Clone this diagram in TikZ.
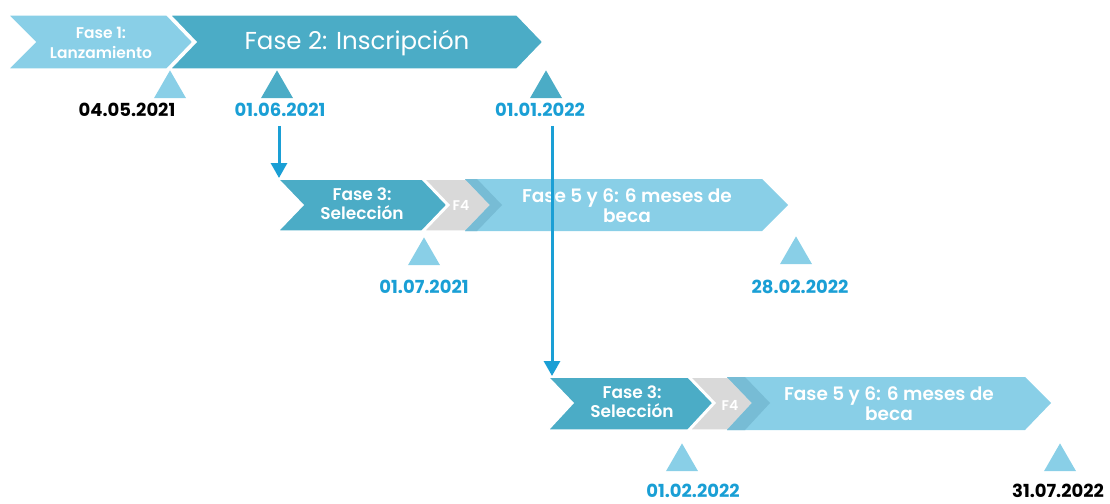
\documentclass[tikz,border=0pt]{standalone}
\usepackage{fontspec}
\setmainfont{Poppins}
\newfontfamily\semifont{Poppins SemiBold}
\usetikzlibrary{positioning}
\usetikzlibrary{shapes.geometric}
\usetikzlibrary{arrows.meta}
\definecolor{fasedark}{HTML}{4BACC6}
\definecolor{faselight}{HTML}{89CFE7}
\definecolor{fasegrey}{HTML}{D9D9D9}
\definecolor{fasemix}{HTML}{77BCD5}
\definecolor{dateblue}{HTML}{1A9FD5}

\begin{document}
\begin{tikzpicture}
    [x=1pt, y=-1pt,
    dark/.style={fill=fasedark, draw=white, line width=1.5pt},
    light/.style={fill=faselight, draw=white, line width=1.5pt},
    grey/.style={fill=fasegrey, draw=white, line width=1.5pt},
    phase/.style={text=white, align=center, inner sep=0pt, font=\semifont\fontsize{17}{19}\selectfont},
    date/.style={text=dateblue, inner sep=0pt, font=\bfseries\fontsize{18}{18}\selectfont},
    hito/.style={regular polygon, regular polygon sides=3, minimum size=37pt, inner sep=0pt, anchor=corner 1},
    link/.style={-{Triangle[width=16pt,length=15pt]}, line width=3pt, draw=dateblue}]
     \useasboundingbox (0,0) rectangle (1110,503);
     %\draw[step=50pt,gray,very thin] (0,0) grid (1110,503);
     % row 1
     \draw[dark]  (170,15) -- (517,15) -- (543,42) -- (517,69) -- (170,69) -- (196,42) -- cycle;
     \draw[light] (8,15) -- (167,15) -- (193,42) -- (167,69) -- (8,69) -- (35,42) -- cycle;
     \node[phase, font=\semifont\fontsize{15.5}{20}\selectfont] (f1) at (101,43) {Fase 1:\\Lanzamiento};
     \node[phase, font=\fontsize{24.5}{24.5}\selectfont] (f2) at (357,43) {Fase 2: Inscripción};
     % row 2
     \draw[grey]  (424,179) -- (477,179) -- (502,205) -- (477,231) -- (424,231) -- (449,205) -- cycle;
     \fill[faselight] (465,179) -- (762,179) -- (788,205) -- (762,231) -- (465,231) -- (490,205) -- cycle;
     \begin{scope}
       \clip (424,179) -- (477,179) -- (502,205) -- (477,231) -- (424,231) -- (449,205) -- cycle;
       \fill[fasemix] (465,179) -- (600,179) -- (600,231) -- (465,231) -- (490,205) -- cycle;
     \end{scope}
     \draw[dark]  (278,179) -- (422,179) -- (447,205) -- (422,231) -- (278,231) -- (303,205) -- cycle;
     \node[phase] (f3a) at (362,204) {Fase 3:\\Selección};
     \node[phase, font=\semifont\fontsize{14}{14}\selectfont] (f4a) at (461,205) {F4};
     \node[phase, font=\semifont\fontsize{18.5}{20}\selectfont] (f5a) at (627,206) {Fase 5 y 6: 6 meses de\\beca};
     % row 3
     \draw[grey]  (690,377) -- (745,377) -- (770,403) -- (745,430) -- (690,430) -- (715,403) -- cycle;
     \fill[faselight] (727,377) -- (1025,377) -- (1051,403) -- (1025,430) -- (727,430) -- (752,403) -- cycle;
     \begin{scope}
       \clip (690,377) -- (745,377) -- (770,403) -- (745,430) -- (690,430) -- (715,403) -- cycle;
       \fill[fasemix] (727,377) -- (850,377) -- (850,430) -- (727,430) -- (752,403) -- cycle;
     \end{scope}
     \draw[dark]  (548,377) -- (688,377) -- (713,403) -- (688,430) -- (548,430) -- (573,403) -- cycle;
     \node[phase] (f3b) at (632,402) {Fase 3:\\Selección};
     \node[phase, font=\semifont\fontsize{14}{14}\selectfont] (f4b) at (730,405) {F4};
     \node[phase, font=\semifont\fontsize{18.5}{20}\selectfont] (f5b) at (889,404) {Fase 5 y 6: 6 meses de\\beca};
     % milestones
     \node[hito, fill=faselight] (t1) at (170,70)  {};
     \node[hito, fill=fasedark]  (t2) at (277,70)  {};
     \node[hito, fill=fasedark]  (t3) at (546,70)  {};
     \node[hito, fill=faselight] (t4) at (424,237) {};
     \node[hito, fill=faselight] (t5) at (796,236) {};
     \node[hito, fill=faselight] (t6) at (682,443) {};
     \node[hito, fill=faselight] (t7) at (1060,443) {};
     \node[date, text=black] (d1) at (127,110)  {04.05.2021};
     \node[date] (d2) at (280,110)  {01.06.2021};
     \node[date] (d3) at (540,110)  {01.01.2022};
     \node[date] (d4) at (424,287)  {01.07.2021};
     \node[date] (d5) at (800,287)  {28.02.2022};
     \node[date] (d6) at (693,491)  {01.02.2022};
     \node[date, text=black] (d7) at (1058,491) {31.07.2022};
     % links
     \coordinate (s3a) at (279,178);
     \coordinate (s3b) at (552,376);
     \draw[link] (d2.south -| s3a) ++(0,9) -- (s3a);
     \draw[link] (d3.south -| s3b) ++(0,9) -- (s3b);
\end{tikzpicture}
\end{document}
